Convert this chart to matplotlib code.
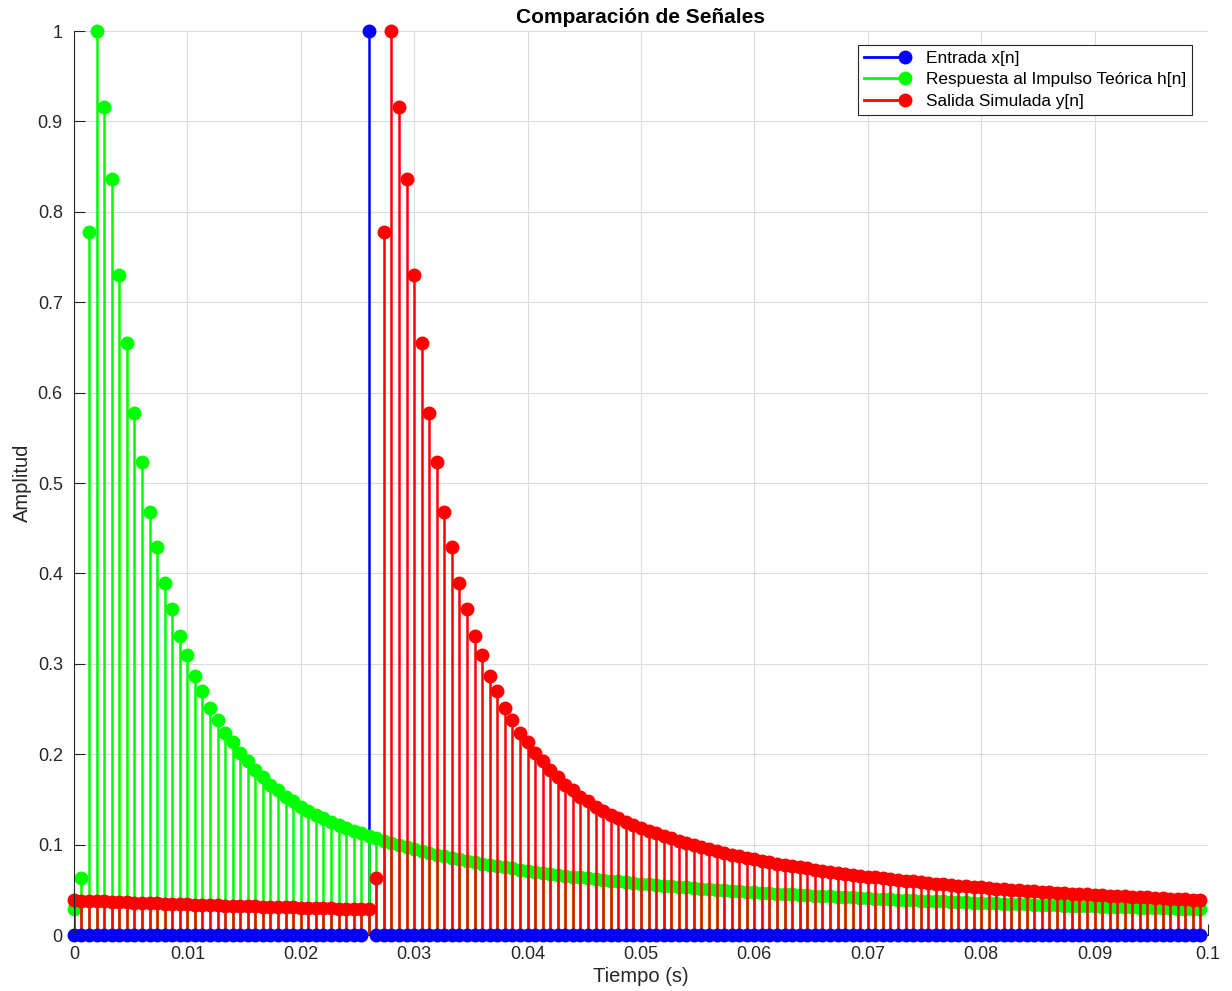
import numpy as np
import matplotlib
matplotlib.use('Agg')
import matplotlib.pyplot as plt
from matplotlib.lines import Line2D
from matplotlib.legend_handler import HandlerBase

plt.rcParams['font.family'] = ['Liberation Sans', 'DejaVu Sans']

fs = 1500
n_muestras = 150

# entrada: impulso en n = 39
x_entrada = [0.0] * 39 + [1.0] + [0.0] * 110

# respuesta al impulso teorica
h_teorica = [
    0.029, 0.063, 0.778, 1.000, 0.916, 0.836, 0.730, 0.655, 0.578, 0.523,
    0.468, 0.429, 0.389, 0.361, 0.331, 0.310, 0.286, 0.270, 0.251, 0.238,
    0.223, 0.213, 0.201, 0.192, 0.182, 0.175, 0.166, 0.160, 0.153, 0.148,
    0.142, 0.137, 0.133, 0.129, 0.125, 0.1220, 0.1186, 0.1154, 0.1124, 0.1095,
    0.1068, 0.1041, 0.1017, 0.0993, 0.0970, 0.0949, 0.0928, 0.0909, 0.0890, 0.0871,
    0.0854, 0.0837, 0.0821, 0.0806, 0.0791, 0.0776, 0.0763, 0.0749, 0.0736, 0.0724,
    0.0712, 0.0700, 0.0689, 0.0678, 0.0667, 0.0657, 0.0647, 0.0637, 0.0628, 0.0619,
    0.0610, 0.0601, 0.0593, 0.0585, 0.0577, 0.0569, 0.0562, 0.0555, 0.0547, 0.0541,
    0.0534, 0.0527, 0.0521, 0.0514, 0.0508, 0.0502, 0.0497, 0.0491, 0.0485, 0.0480,
    0.0474, 0.0469, 0.0464, 0.0459, 0.0454, 0.0449, 0.0445, 0.0440, 0.0436, 0.0431,
    0.0427, 0.0423, 0.0419, 0.0415, 0.0411, 0.0407, 0.0403, 0.0399, 0.0395, 0.0392,
    0.0388, 0.0385, 0.0381, 0.0378, 0.0375, 0.0371, 0.0368, 0.0365, 0.0362, 0.0359,
    0.0356, 0.0353, 0.0350, 0.0347, 0.0344, 0.0342, 0.0339, 0.0336, 0.0334, 0.0331,
    0.0328, 0.0326, 0.0323, 0.0321, 0.0319, 0.0316, 0.0314, 0.0312, 0.0309, 0.0307,
    0.0305, 0.0303, 0.0301, 0.0299, 0.0297, 0.0294, 0.0292, 0.0290, 0.0289, 0.0287,
]

# salida simulada
y_salida = [
    0.0385, 0.0381, 0.0378, 0.0375, 0.0371, 0.0368, 0.0365, 0.0362, 0.0359, 0.0356,
    0.0353, 0.0350, 0.0347, 0.0344, 0.0342, 0.0339, 0.0336, 0.0334, 0.0331, 0.0328,
    0.0326, 0.0323, 0.0321, 0.0319, 0.0316, 0.0314, 0.0312, 0.0309, 0.0307, 0.0305,
    0.0303, 0.0301, 0.0299, 0.0297, 0.0294, 0.0292, 0.0290, 0.0289, 0.0287,
    0.029, 0.063, 0.778, 1.000, 0.916, 0.836, 0.730, 0.655, 0.578, 0.523,
    0.468, 0.429, 0.389, 0.361, 0.331, 0.310, 0.286, 0.270, 0.251, 0.238,
    0.223, 0.213, 0.201, 0.192, 0.182, 0.175, 0.166, 0.160, 0.153, 0.148,
    0.142, 0.137, 0.133, 0.129, 0.125, 0.1220, 0.1186, 0.1154, 0.1124, 0.1095,
    0.1068, 0.1041, 0.1017, 0.0993, 0.0970, 0.0949, 0.0928, 0.0909, 0.0890, 0.0871,
    0.0854, 0.0837, 0.0821, 0.0806, 0.0791, 0.0776, 0.0763, 0.0749, 0.0736, 0.0724,
    0.0712, 0.0700, 0.0689, 0.0678, 0.0667, 0.0657, 0.0647, 0.0637, 0.0628, 0.0619,
    0.0610, 0.0601, 0.0593, 0.0585, 0.0577, 0.0569, 0.0562, 0.0555, 0.0547, 0.0541,
    0.0534, 0.0527, 0.0521, 0.0514, 0.0508, 0.0502, 0.0497, 0.0491, 0.0485, 0.0480,
    0.0474, 0.0469, 0.0464, 0.0459, 0.0454, 0.0449, 0.0445, 0.0440, 0.0436, 0.0431,
    0.0427, 0.0423, 0.0419, 0.0415, 0.0411, 0.0407, 0.0403, 0.0399, 0.0395, 0.0392,
    0.0388,
]

etiquetas = ['Entrada x[n]', 'Respuesta al Impulso Teórica h[n]', 'Salida Simulada y[n]']
colores = ['#0000ff', '#00ff00', '#ff0000']

t = np.arange(n_muestras) / fs

fig = plt.figure(figsize=(12.32, 9.91), dpi=100)
ax = fig.add_axes([0.060, 0.0565, 0.9205, 0.9122])

# zorder: (lineas, marcadores)
orden = [(2.0, 2.5), (2.1, 2.2), (2.3, 2.4)]
for datos, c, (zl, zm) in zip([x_entrada, h_teorica, y_salida], colores, orden):
    ml, sl, bl = ax.stem(t, datos, basefmt=' ')
    sl.set_color(c)
    sl.set_linewidth(1.8)
    sl.set_zorder(zl)
    ml.set_color(c)
    ml.set_markersize(9)
    ml.set_zorder(zm)
    ml.set_clip_on(False)
    bl.set_visible(False)


class StemHandle(HandlerBase):
    def create_artists(self, legend, orig_handle, xdescent, ydescent,
                       width, height, fontsize, trans):
        y = (height - ydescent) / 2.0
        c = orig_handle.get_color()
        ln = Line2D([-xdescent, width - xdescent], [y, y], color=c, lw=2)
        mk = Line2D([width - xdescent], [y], color=c, marker='o',
                    markersize=9, ls='none')
        ln.set_transform(trans)
        mk.set_transform(trans)
        return [ln, mk]


handles = [Line2D([], [], color=c) for c in colores]
leg = ax.legend(handles, etiquetas, loc='upper right',
                bbox_to_anchor=(0.9859, 0.9845), borderaxespad=0,
                handler_map={Line2D: StemHandle()}, fontsize=12.4,
                handlelength=2.4, handletextpad=1.2, labelspacing=0.36,
                borderpad=0.35, fancybox=False, framealpha=1,
                edgecolor='#262626')
leg.get_frame().set_linewidth(0.8)
leg.set_zorder(5)

ax.set_xlim(0, 0.1)
ax.set_ylim(0, 1)
ax.set_xticks(np.arange(0, 0.101, 0.01))
ax.set_xticklabels(['0', '0.01', '0.02', '0.03', '0.04', '0.05', '0.06',
                    '0.07', '0.08', '0.09', '0.1'])
ax.set_yticks(np.arange(0, 1.01, 0.1))
ax.set_yticklabels(['0', '0.1', '0.2', '0.3', '0.4', '0.5', '0.6', '0.7',
                    '0.8', '0.9', '1'])
ax.tick_params(direction='in', length=8, width=0.8, colors='#262626',
               labelsize=13, top=False, right=False)
ax.tick_params(axis='x', pad=8)
ax.tick_params(axis='y', pad=8)
ax.spines['top'].set_visible(False)
ax.spines['right'].set_visible(False)
ax.spines['left'].set_color('#262626')
ax.spines['bottom'].set_color('#262626')
ax.grid(True, color='#dcdcdc', linewidth=0.8)
ax.set_axisbelow(True)

ax.set_xlabel('Tiempo (s)', fontsize=14.5, color='#262626', labelpad=3)
ax.set_ylabel('Amplitud', fontsize=14.5, color='#262626', labelpad=4)
ax.set_title('Comparación de Señales', fontsize=15, fontweight='bold',
             pad=6)

fig.savefig('out.png', dpi=100)
